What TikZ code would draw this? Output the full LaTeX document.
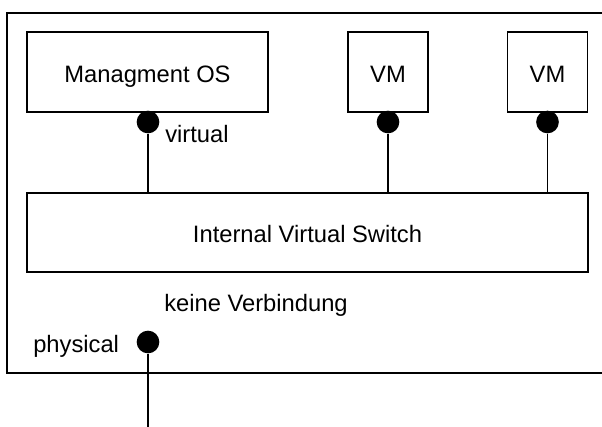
\documentclass[tikz,border=0pt]{standalone}
\usepackage{fontspec}
\setmainfont{Liberation Sans}
\usepackage{tikz}

\tikzset{
  box/.style={draw, line width=1.4pt, inner sep=0pt, text height=15pt, text depth=0pt},
  port/.style={circle, fill=black, inner sep=0pt, minimum size=17pt},
  wire/.style={line width=1.3pt}
}

\begin{document}
\begin{tikzpicture}[x=0.75pt,y=0.75pt,yscale=-1,xscale=1,font=\fontsize{17.8pt}{21pt}\selectfont]
\useasboundingbox (0,0) rectangle (602,426);

%Shape: Host frame (open to the right)
\draw [line width=1.4pt] (615,12.7) -- (7,12.7) -- (7,372.7) -- (615,372.7) ;

%Shape: Boxes
\node [box, minimum width=180.75pt, minimum height=60pt] (mgmt) at (147.5,72) {Managment OS};
\node [box, minimum width=60pt, minimum height=60pt] (vma) at (388,72) {VM};
\node [box, minimum width=60pt, minimum height=60pt] (vmb) at (547.5,72) {VM};
\node [box, minimum width=420.75pt, minimum height=59.25pt] (switch) at (307.5,232.5) {Internal Virtual Switch};

%Shape: Ports
\node [port] (mgmtport) at (148,122) {};
\node [port] (vmaport) at (388,122) {};
\node [port] (vmbport) at (547.5,122) {};
\node [port] (physport) at (148,342) {};
\coordinate (uplink) at (148,430);

%Straight Lines
\draw [wire] (mgmtport) -- (mgmtport |- switch.north) ;
\draw [wire] (vmaport) -- (vmaport |- switch.north) ;
\draw [wire] (vmbport) -- (vmbport |- switch.north) ;
\draw [wire] (physport) -- (uplink) ;

% Text Node
\node [anchor=base west, inner sep=0pt] (virtlabel) at (165,142) {virtual};
% Text Node
\node [anchor=base west, inner sep=0pt] (nolink) at (164,311.7) {keine Verbindung};
% Text Node
\node [anchor=base west, inner sep=0pt] (physlabel) at (33,352) {physical};

\end{tikzpicture}
\end{document}
